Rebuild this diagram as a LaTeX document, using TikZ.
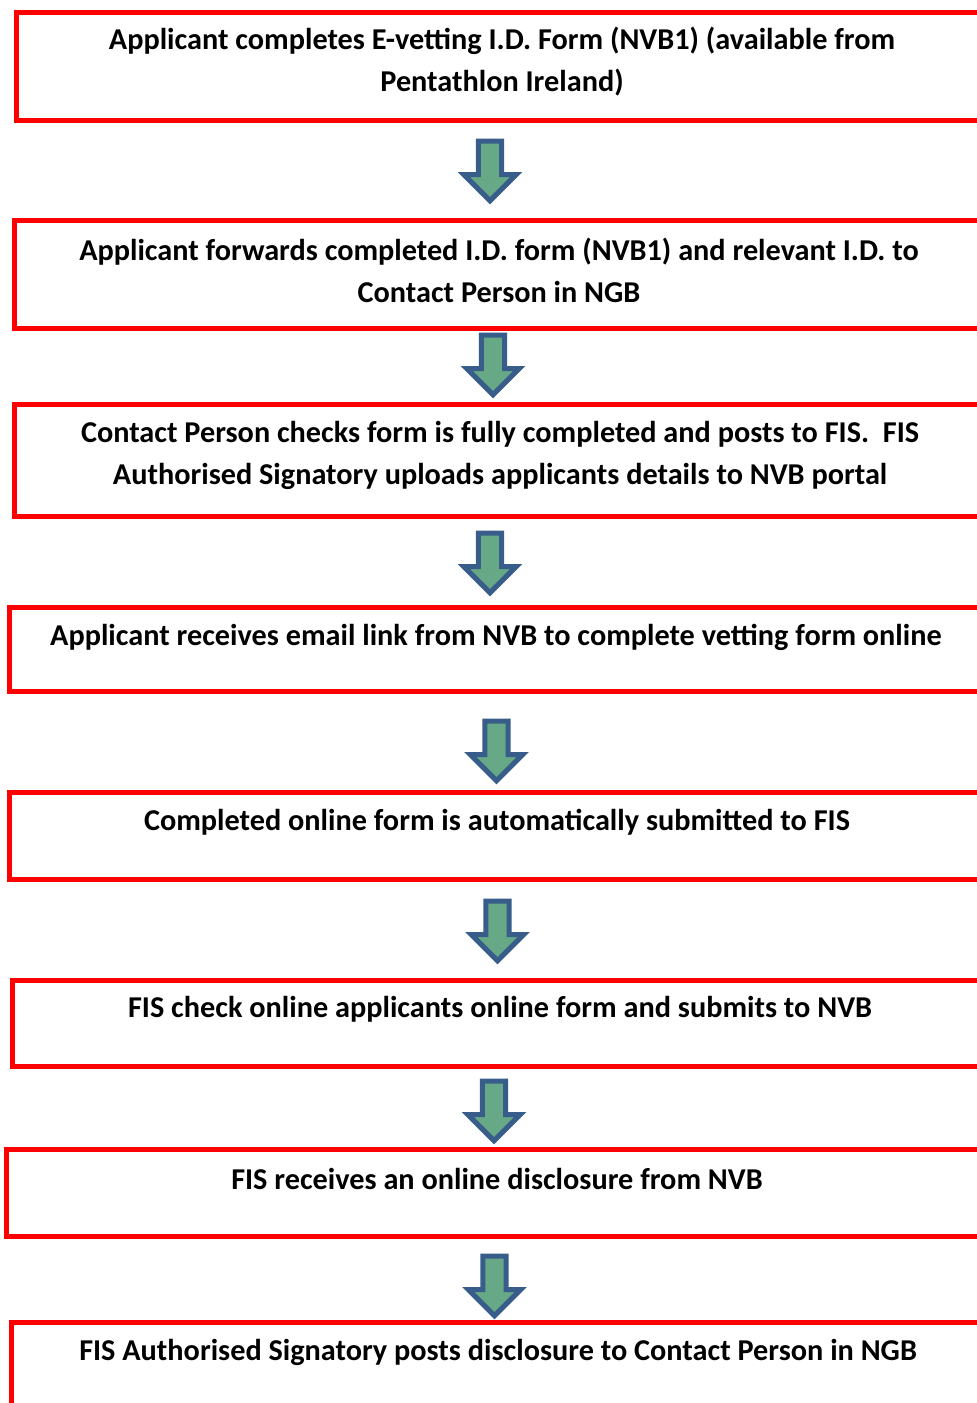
\documentclass[tikz,border=0pt]{standalone}
\usepackage{fontspec}
\setmainfont{Carlito}
\usetikzlibrary{shapes.arrows}
\definecolor{ArrowFill}{RGB}{103,168,135}
\definecolor{ArrowLine}{RGB}{56,93,138}
\tikzset{
  StepBox/.style = { rectangle, draw = red, line width = 3.5pt,
                     anchor = north west, minimum width = 760pt },
  StepText/.style = { align = center, inner sep = 0pt,
                      font = \fontsize{22.7}{31.5}\selectfont\bfseries },
  DownArrow/.style = { single arrow, rotate = -90, anchor = tail,
                       draw = ArrowLine, fill = ArrowFill, line width = 3.8pt,
                       inner xsep = 0pt, inner ysep = 6.8pt,
                       single arrow head extend = 10.9pt,
                       minimum height = 44.75pt } }

\begin{document}
\begin{tikzpicture}[x=0.75pt,y=-0.75pt]
  \clip (0,0) rectangle (977,1403);
  \useasboundingbox (0,0) rectangle (977,1403);

  \node[StepBox, minimum height = 81pt] (b1) at (14,10) {};
  \node[StepBox, minimum height = 81pt] (b2) at (12,218) {};
  \node[StepBox, minimum height = 84pt] (b3) at (12,402) {};
  \node[StepBox, minimum height = 63pt] (b4) at (7,605) {};
  \node[StepBox, minimum height = 65.25pt] (b5) at (7,790) {};
  \node[StepBox, minimum height = 64.5pt] (b6) at (10,978) {};
  \node[StepBox, minimum height = 65.25pt] (b7) at (4,1147) {};
  \node[StepBox, minimum height = 112pt] (b8) at (9,1320) {};

  \node[StepText] (t1) at (502,62)
    {Applicant completes E-vetting I.D. Form (NVB1) (available from\\Pentathlon Ireland)};
  \node[StepText] (t2) at (499,270)
    {Applicant forwards completed I.D. form (NVB1) and relevant I.D. to\\Contact Person in NGB};
  \node[StepText] (t3) at (500,455)
    {Contact Person checks form is fully completed and posts to FIS.\ \ FIS\\Authorised Signatory uploads applicants details to NVB portal};
  \node[StepText] (t4) at (496,637)
    {Applicant receives email link from NVB to complete vetting form online};
  \node[StepText] (t5) at (497,822)
    {Completed online form is automatically submitted to FIS};
  \node[StepText] (t6) at (500,1009)
    {FIS check online applicants online form and submits to NVB};
  \node[StepText] (t7) at (497,1179)
    {FIS receives an online disclosure from NVB};
  \node[StepText] (t8) at (498,1352)
    {FIS Authorised Signatory posts disclosure to Contact Person in NGB};

  \node[DownArrow] (a1) at (490,138.5) {};
  \node[DownArrow] (a2) at (493,332.5) {};
  \node[DownArrow] (a3) at (490,530.5) {};
  \node[DownArrow] (a4) at (496.5,718.5) {};
  \node[DownArrow] (a5) at (497.5,898.5) {};
  \node[DownArrow] (a6) at (494,1078.5) {};
  \node[DownArrow] (a7) at (494.5,1253.5) {};
\end{tikzpicture}
\end{document}
